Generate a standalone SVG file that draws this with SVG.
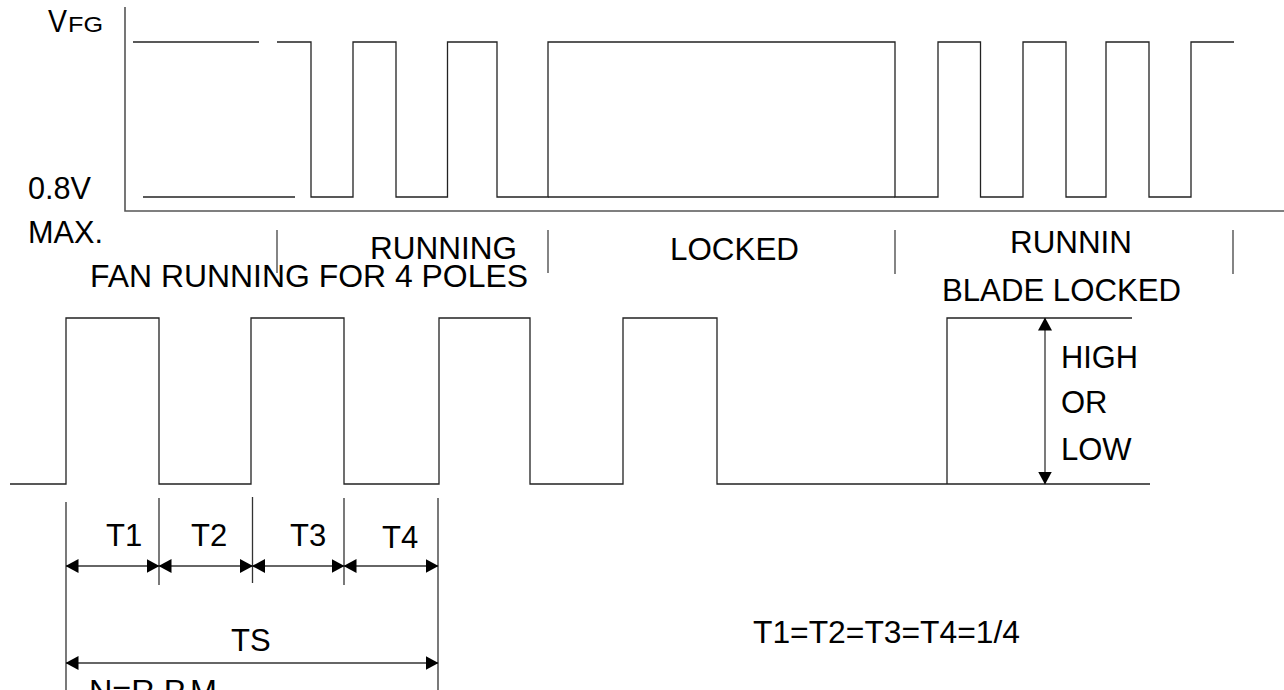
<svg xmlns="http://www.w3.org/2000/svg" width="1284" height="690" viewBox="0 0 1284 690">
<style>
.t{font-family:"Liberation Sans",Arial,sans-serif;font-size:31px;fill:#000}
.w{fill:none;stroke:#222;stroke-width:1.3}
.ax{fill:none;stroke:#555;stroke-width:1.6}
.sep{fill:none;stroke:#444;stroke-width:1.3}
.dim{fill:none;stroke:#333;stroke-width:1.3}
</style>
<defs>
<marker id="ah" markerUnits="userSpaceOnUse" markerWidth="13" markerHeight="14" refX="12.5" refY="7" orient="auto-start-reverse" viewBox="0 0 13 14">
<path d="M0,0 L13,7 L0,14 z" fill="#000"/>
</marker>
</defs>
<rect width="1284" height="690" fill="#fff"/>
<g id="axes">
<path class="ax" d="M125,7 V211 H1284"/>
</g>
<g id="top-waveform">
<path class="w" d="M133,42 H259"/>
<path class="w" d="M143,197 H295"/>
<path class="w" d="M277,42 H311 V197 H353 V42 H396 V197 H447.5 V42 H497 V197 H548 V42 H895 V197 H938 V42 H980.5 V197 H1023 V42 H1066 V197 H1106 V42 H1149 V197 H1191 V42 H1234"/>
<path class="w" d="M548,197 H895"/>
</g>
<g id="separators">
<path class="sep" d="M277,230 V273 M548,230 V273 M895,230 V274 M1233,230 V274"/>
</g>
<g id="bottom-waveform">
<path class="w" d="M10,484 H66 V318 H159 V484 H251 V318 H344 V484 H439 V318 H530 V484 H623 V318 H717 V484 H1150"/>
<path class="w" d="M947,484 V318 H1132"/>
</g>
<g id="connectors">
<path class="dim" d="M66,502 V690 M159,498 V585 M252.5,497 V583 M344,498 V585 M438,498 V690"/>
<line class="dim" x1="66" y1="566" x2="159" y2="566" marker-start="url(#ah)" marker-end="url(#ah)"/>
<line class="dim" x1="159" y1="566" x2="252.5" y2="566" marker-start="url(#ah)" marker-end="url(#ah)"/>
<line class="dim" x1="252.5" y1="566" x2="344" y2="566" marker-start="url(#ah)" marker-end="url(#ah)"/>
<line class="dim" x1="344" y1="566" x2="438" y2="566" marker-start="url(#ah)" marker-end="url(#ah)"/>
<line class="dim" x1="66" y1="663" x2="438" y2="663" marker-start="url(#ah)" marker-end="url(#ah)"/>
<line class="dim" x1="1045" y1="318" x2="1045" y2="484" marker-start="url(#ah)" marker-end="url(#ah)"/>
</g>
<g id="labels">
<text class="t" x="48" y="32" style="font-size:31px" textLength="19" lengthAdjust="spacingAndGlyphs">V</text>
<text class="t" x="68" y="32" style="font-size:22px" textLength="35" lengthAdjust="spacingAndGlyphs">FG</text>
<text class="t" x="28" y="199" textLength="63" lengthAdjust="spacingAndGlyphs">0.8V</text>
<text class="t" x="28" y="243" textLength="75" lengthAdjust="spacingAndGlyphs">MAX.</text>
<text class="t" x="370" y="259" textLength="147" lengthAdjust="spacingAndGlyphs">RUNNING</text>
<text class="t" x="90" y="287" textLength="438" lengthAdjust="spacingAndGlyphs">FAN RUNNING FOR 4 POLES</text>
<text class="t" x="670" y="260" textLength="129" lengthAdjust="spacingAndGlyphs">LOCKED</text>
<text class="t" x="1010" y="253" textLength="122" lengthAdjust="spacingAndGlyphs">RUNNIN</text>
<text class="t" x="942" y="301" textLength="239" lengthAdjust="spacingAndGlyphs">BLADE LOCKED</text>
<text class="t" x="1061" y="368" textLength="77" lengthAdjust="spacingAndGlyphs">HIGH</text>
<text class="t" x="1061" y="413">OR</text>
<text class="t" x="1061" y="460">LOW</text>
<text class="t" x="106" y="546">T1</text>
<text class="t" x="191" y="546">T2</text>
<text class="t" x="290" y="546">T3</text>
<text class="t" x="382" y="548">T4</text>
<text class="t" x="231" y="651">TS</text>
<text class="t" x="89" y="702" textLength="128" lengthAdjust="spacingAndGlyphs">N=R.P.M</text>
<text class="t" x="753" y="643" textLength="267" lengthAdjust="spacingAndGlyphs">T1=T2=T3=T4=1/4</text>
</g>
</svg>
